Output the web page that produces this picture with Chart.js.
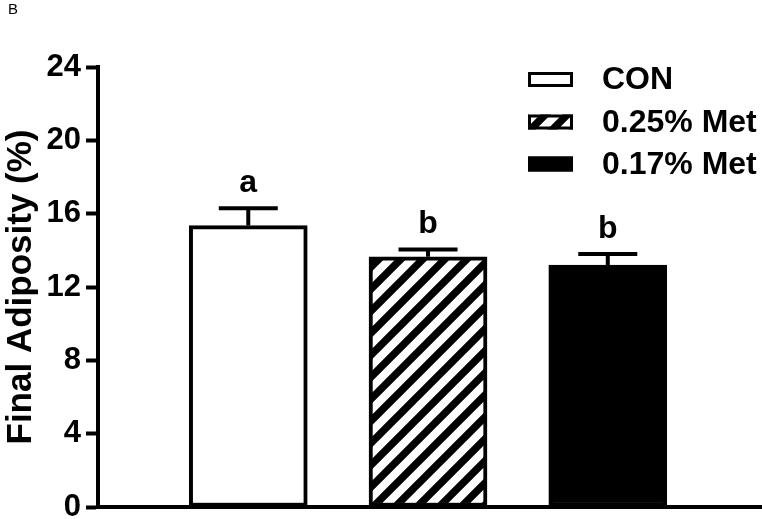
<!DOCTYPE html>
<html>
<head>
<meta charset="utf-8">
<script src="https://cdn.jsdelivr.net/npm/chart.js@4.4.0/dist/chart.umd.min.js"></script>
<style>
    body { margin: 0; background: #fff; }
    #wrap { position: relative; width: 762px; height: 519px; }
    #panel { position: absolute; left: 8px; top: 0px; font: 15px "Liberation Sans", Arial, sans-serif; color: #000; }
</style>
</head>
<body>
<div id="wrap">
    <canvas id="chart" width="762" height="519"></canvas>
    <div id="panel">B</div>
</div>
<script>
const groups = ['CON', '0.25% Met', '0.17% Met'];
const adiposity = [15.35, 13.65, 13.2];
const sem = [0.95, 0.4, 0.6];
const letters = ['a', 'b', 'b'];
const yTicks = [0, 4, 8, 12, 16, 20, 24];

const FONT = '"Liberation Sans", Arial, sans-serif';

function hatchPattern() {
    const s = 22;
    const c = document.createElement('canvas');
    c.width = s;
    c.height = s;
    const g = c.getContext('2d');
    g.fillStyle = '#fff';
    g.fillRect(0, 0, s, s);
    g.strokeStyle = '#000';
    g.lineWidth = 7.5;
    g.beginPath();
    // lines run past the tile so the caps don't leave notches at the seams
    for (const k of [-s, 0, s]) {
        g.moveTo(k - s, 2 * s);
        g.lineTo(k + 2 * s, -s);
    }
    g.stroke();
    return g.createPattern(c, 'repeat');
}

const hatch = hatchPattern();
const fills = ['#fff', hatch, '#000'];

// error bars (upper only) and significance letters
const errorBars = {
    id: 'errorBars',
    afterDatasetsDraw(chart) {
        const { ctx, scales: { x, y } } = chart;
        ctx.save();
        ctx.strokeStyle = '#000';
        ctx.fillStyle = '#000';
        ctx.lineWidth = 4;
        adiposity.forEach((v, i) => {
            const px = x.getPixelForValue(i);
            const top = y.getPixelForValue(v);
            const cap = y.getPixelForValue(v + sem[i]);
            ctx.beginPath();
            ctx.moveTo(px, top);
            ctx.lineTo(px, cap);
            ctx.moveTo(px - 29.5, cap);
            ctx.lineTo(px + 29.5, cap);
            ctx.stroke();
            ctx.font = 'bold 32px ' + FONT;
            ctx.textAlign = 'center';
            ctx.textBaseline = 'alphabetic';
            ctx.fillText(letters[i], px, cap - 16);
        });
        ctx.restore();
    }
};

// legend drawn as a column in the top right corner
const boxLegend = {
    id: 'boxLegend',
    afterDraw(chart) {
        const { ctx } = chart;
        const rows = [79.5, 122, 164];
        ctx.save();
        groups.forEach((g, i) => {
            const yy = rows[i];
            ctx.fillStyle = fills[i];
            ctx.fillRect(528, yy - 7.5, 45, 15);
            ctx.strokeStyle = '#000';
            ctx.lineWidth = 3;
            ctx.strokeRect(529.5, yy - 6, 42, 12);
            ctx.fillStyle = '#000';
            ctx.font = 'bold 32px ' + FONT;
            ctx.textAlign = 'left';
            ctx.textBaseline = 'middle';
            ctx.fillText(g, 602, yy + 1);
        });
        ctx.restore();
    }
};

new Chart(document.getElementById('chart'), {
    type: 'bar',
    data: {
        datasets: [{
            data: adiposity.map((v, i) => ({ x: i, y: v })),
            backgroundColor: fills,
            borderColor: '#000',
            borderWidth: 4,
            borderSkipped: false,
            barThickness: 118
        }]
    },
    options: {
        responsive: false,
        animation: false,
        devicePixelRatio: 1,
        layout: { padding: { top: 67, left: 0, right: 0, bottom: 0 } },
        plugins: {
            legend: { display: false },
            tooltip: { enabled: false }
        },
        scales: {
            x: {
                type: 'linear',
                offset: false,
                min: -0.836,
                max: 2.858,
                ticks: { display: false },
                grid: { display: false, offset: false },
                border: { color: '#000', width: 4 },
                afterFit(scale) {
                    scale.height = 12;
                    scale.paddingLeft = 0;
                    scale.paddingRight = 0;
                }
            },
            y: {
                min: 0,
                max: 24,
                afterBuildTicks(scale) { scale.ticks = yTicks.map(v => ({ value: v })); },
                ticks: {
                    color: '#000',
                    padding: 5,
                    font: { family: FONT, size: 31, weight: 'bold' }
                },
                grid: {
                    drawOnChartArea: false,
                    drawTicks: true,
                    tickLength: 12,
                    tickWidth: 4,
                    tickColor: '#000'
                },
                border: { color: '#000', width: 4 },
                title: {
                    display: true,
                    text: 'Final Adiposity (%)',
                    color: '#000',
                    padding: 0,
                    font: { family: FONT, size: 35, weight: 'bold' }
                },
                afterFit(scale) {
                    scale.width = 98;
                    scale.paddingTop = 0;
                    scale.paddingBottom = 0;
                }
            }
        }
    },
    plugins: [errorBars, boxLegend]
});
</script>
</body>
</html>
